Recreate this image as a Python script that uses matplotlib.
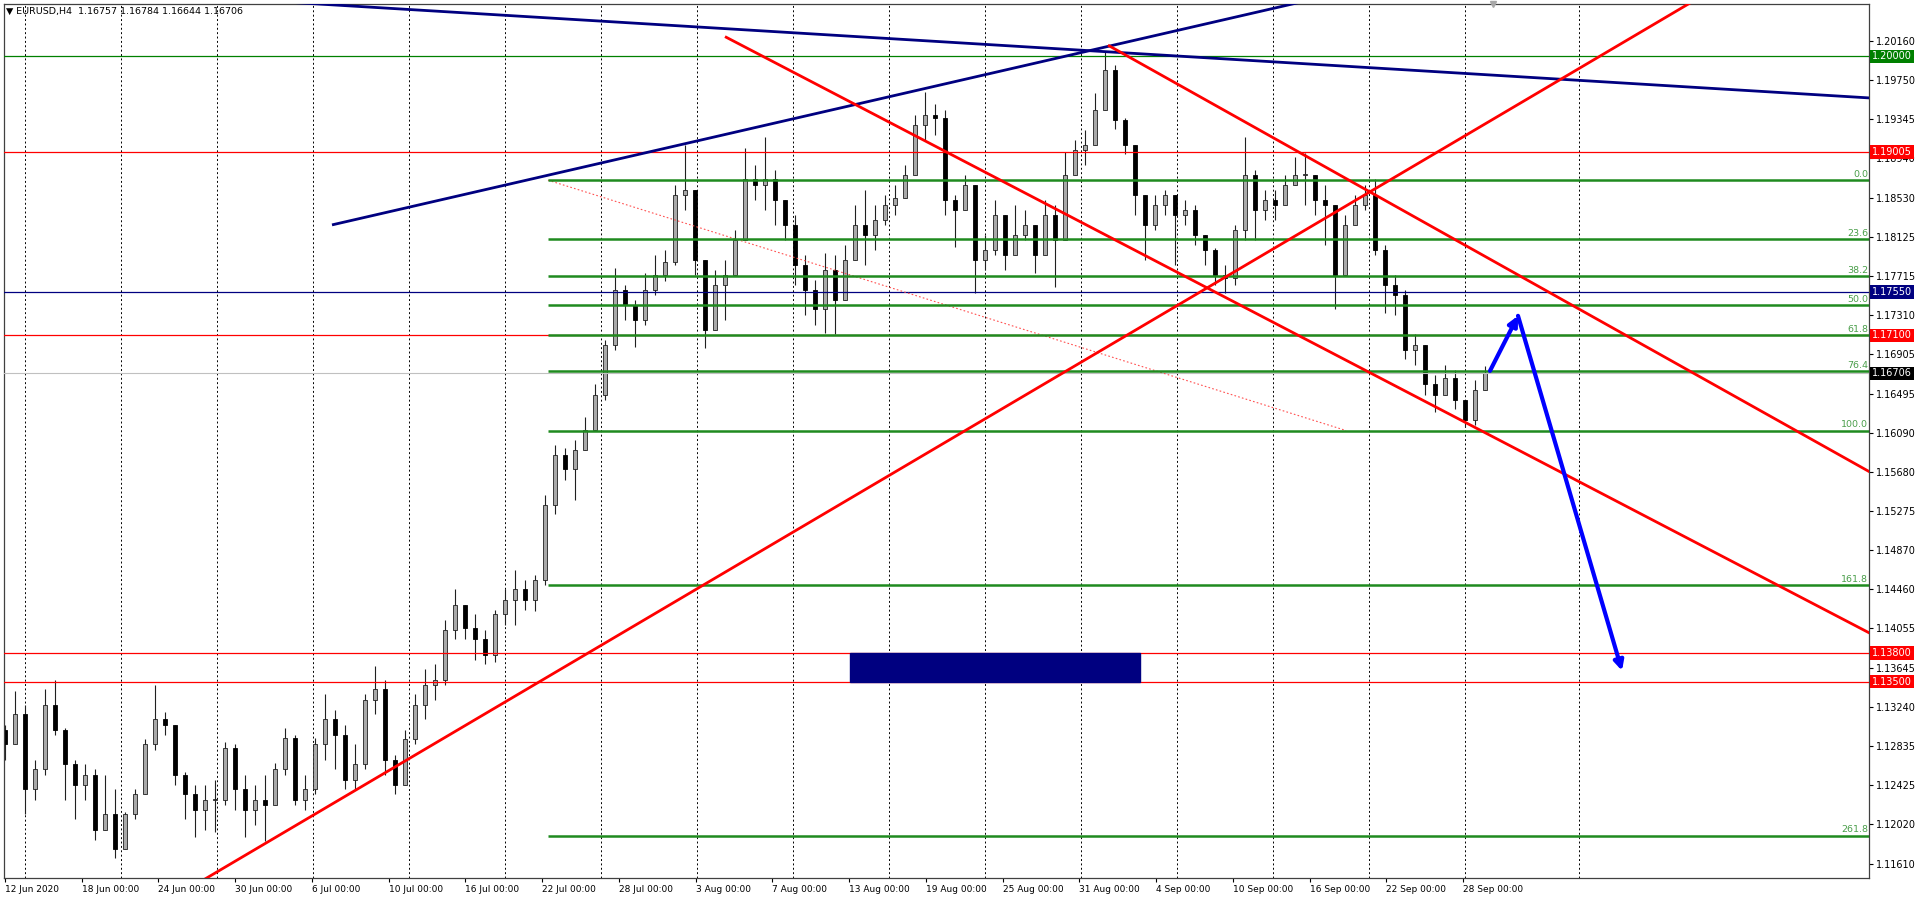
import matplotlib
matplotlib.use('Agg')
import numpy as np
import matplotlib.pyplot as plt
import matplotlib.transforms as mtransforms
from matplotlib.patches import Rectangle

plt.rcParams.update({'font.family': ['DejaVu Sans'], 'font.size': 7})

# ---- price data (12h candles) ----
first_open = 1.1300
closes = [1.1285, 1.1316, 1.1238, 1.1259, 1.1326, 1.1300, 1.1264, 1.1243, 1.1253, 1.1196,
          1.1212, 1.1176, 1.1212, 1.1233, 1.1285, 1.1311, 1.1305, 1.1253, 1.1233, 1.1217,
          1.1227, 1.1227, 1.1281, 1.1238, 1.1217, 1.1227, 1.1222, 1.1259, 1.1292, 1.1227,
          1.1238, 1.1285, 1.1311, 1.1295, 1.1248, 1.1264, 1.1331, 1.1342, 1.1269, 1.1243,
          1.1290, 1.1326, 1.1347, 1.1352, 1.1404, 1.1430, 1.1406, 1.1394, 1.1378, 1.1420,
          1.1435, 1.1446, 1.1435, 1.1456, 1.1534, 1.1586, 1.1571, 1.1591, 1.1612, 1.1648,
          1.1700, 1.1757, 1.1742, 1.1726, 1.1757, 1.1773, 1.1786, 1.1856, 1.1861, 1.1788,
          1.1716, 1.1762, 1.1773, 1.1809, 1.1872, 1.1866, 1.1872, 1.1851, 1.1825, 1.1783,
          1.1757, 1.1737, 1.1778, 1.1747, 1.1788, 1.1825, 1.1814, 1.1830, 1.1846, 1.1853,
          1.1877, 1.1929, 1.1939, 1.1936, 1.1851, 1.1840, 1.1866, 1.1788, 1.1799, 1.1835,
          1.1794, 1.1814, 1.1825, 1.1794, 1.1835, 1.1809, 1.1877, 1.1903, 1.1908, 1.1944,
          1.1986, 1.1934, 1.1908, 1.1856, 1.1825, 1.1846, 1.1856, 1.1835, 1.1840, 1.1814,
          1.1799, 1.1773, 1.1770, 1.1820, 1.1877, 1.1840, 1.1851, 1.1846, 1.1866, 1.1877,
          1.1877, 1.1851, 1.1846, 1.1773, 1.1825, 1.1846, 1.1856, 1.1799, 1.1762, 1.1752,
          1.1695, 1.1700, 1.1659, 1.1648, 1.1666, 1.1643, 1.1622, 1.1653, 1.1671]
highs = [1.1305, 1.1340, 1.1326, 1.1269, 1.1342, 1.1352, 1.1302, 1.1269, 1.1264, 1.1259,
         1.1253, 1.1238, 1.1215, 1.1238, 1.1290, 1.1347, 1.1319, 1.1300, 1.1256, 1.1243,
         1.1243, 1.1248, 1.1287, 1.1285, 1.1253, 1.1243, 1.1253, 1.1266, 1.1302, 1.1295,
         1.1253, 1.1292, 1.1337, 1.1321, 1.1305, 1.1285, 1.1337, 1.1366, 1.1352, 1.1274,
         1.1300, 1.1337, 1.1363, 1.1368, 1.1414, 1.1446, 1.1430, 1.1420, 1.1404, 1.1425,
         1.1446, 1.1466, 1.1456, 1.1461, 1.1544, 1.1596, 1.1593, 1.1601, 1.1625, 1.1659,
         1.1705, 1.1780, 1.1762, 1.1747, 1.1775, 1.1794, 1.1799, 1.1866, 1.1908, 1.1861,
         1.1788, 1.1778, 1.1788, 1.1820, 1.1905, 1.1887, 1.1916, 1.1882, 1.1840, 1.1835,
         1.1794, 1.1768, 1.1796, 1.1794, 1.1804, 1.1846, 1.1861, 1.1846, 1.1856, 1.1866,
         1.1887, 1.1939, 1.1963, 1.1950, 1.1944, 1.1856, 1.1877, 1.1866, 1.1814, 1.1851,
         1.1825, 1.1846, 1.1840, 1.1825, 1.1851, 1.1846, 1.1901, 1.1913, 1.1923, 1.1962,
         1.2005, 1.1991, 1.1936, 1.1908, 1.1856, 1.1856, 1.1861, 1.1856, 1.1851, 1.1846,
         1.1814, 1.1801, 1.1783, 1.1825, 1.1916, 1.1882, 1.1861, 1.1861, 1.1877, 1.1895,
         1.1900, 1.1866, 1.1866, 1.1814, 1.1835, 1.1856, 1.1866, 1.1872, 1.1804, 1.1773,
         1.1757, 1.1711, 1.1695, 1.1669, 1.1679, 1.1674, 1.1643, 1.1664, 1.1678]
lows = [1.1269, 1.1290, 1.1212, 1.1227, 1.1253, 1.1295, 1.1227, 1.1207, 1.1227, 1.1186,
        1.1196, 1.1167, 1.1176, 1.1207, 1.1233, 1.1279, 1.1295, 1.1243, 1.1207, 1.1189,
        1.1196, 1.1194, 1.1222, 1.1217, 1.1189, 1.1201, 1.1184, 1.1222, 1.1253, 1.1222,
        1.1217, 1.1233, 1.1269, 1.1259, 1.1238, 1.1238, 1.1259, 1.1316, 1.1253, 1.1233,
        1.1248, 1.1285, 1.1311, 1.1331, 1.1347, 1.1394, 1.1394, 1.1373, 1.1368, 1.1371,
        1.1409, 1.1409, 1.1425, 1.1423, 1.1451, 1.1524, 1.1560, 1.1539, 1.1591, 1.1612,
        1.1643, 1.1695, 1.1726, 1.1698, 1.1721, 1.1752, 1.1766, 1.1783, 1.1840, 1.1773,
        1.1697, 1.1716, 1.1726, 1.1773, 1.1835, 1.1851, 1.1840, 1.1825, 1.1809, 1.1762,
        1.1731, 1.1721, 1.1712, 1.1711, 1.1773, 1.1794, 1.1783, 1.1799, 1.1825, 1.1835,
        1.1853, 1.1882, 1.1913, 1.1918, 1.1835, 1.1802, 1.1846, 1.1754, 1.1778, 1.1794,
        1.1778, 1.1799, 1.1809, 1.1775, 1.1814, 1.1760, 1.1809, 1.1882, 1.1887, 1.1918,
        1.1955, 1.1924, 1.1898, 1.1835, 1.1788, 1.1820, 1.1835, 1.1783, 1.1825, 1.1804,
        1.1783, 1.1762, 1.1754, 1.1762, 1.1809, 1.1809, 1.1830, 1.1830, 1.1851, 1.1866,
        1.1846, 1.1835, 1.1804, 1.1737, 1.1788, 1.1825, 1.1840, 1.1794, 1.1733, 1.1731,
        1.1685, 1.1679, 1.1648, 1.1630, 1.1648, 1.1633, 1.1615, 1.1617, 1.1653]

date_labels = ['12 Jun 2020', '18 Jun 00:00', '24 Jun 00:00', '30 Jun 00:00', '6 Jul 00:00',
               '10 Jul 00:00', '16 Jul 00:00', '22 Jul 00:00', '28 Jul 00:00', '3 Aug 00:00',
               '7 Aug 00:00', '13 Aug 00:00', '19 Aug 00:00', '25 Aug 00:00', '31 Aug 00:00',
               '4 Sep 00:00', '10 Sep 00:00', '16 Sep 00:00', '22 Sep 00:00', '28 Sep 00:00']
price_ticks = [1.20160, 1.19750, 1.19345, 1.18940, 1.18530, 1.18125, 1.17715, 1.17310,
               1.16905, 1.16495, 1.16090, 1.15680, 1.15275, 1.14870, 1.14460, 1.14055,
               1.13645, 1.13240, 1.12835, 1.12425, 1.12020, 1.11610]

# horizontal levels: price, colour, label box colour
levels = [(1.20000, '#008000', '#008000'),
          (1.19005, '#ff0000', '#ff0000'),
          (1.17550, '#000080', '#000080'),
          (1.17100, '#ff0000', '#ff0000'),
          (1.16706, '#c0c0c0', '#000000'),
          (1.13800, '#ff0000', '#ff0000'),
          (1.13500, '#ff0000', '#ff0000')]

fib_hi, fib_lo = 1.18713, 1.16111
fib_levels = [0.0, 23.6, 38.2, 50.0, 61.8, 76.4, 100.0, 161.8, 261.8]
fib_start = 54.3

# trend lines: (x0, p0, x1, p1, colour, extend_left)
trend_lines = [(30.7, 1.20548, 186.4, 1.19568, '#000080', True),
               (32.7, 1.18248, 128.9, 1.20548, '#000080', False),
               (20.3, 1.11468, 168.4, 1.20548, '#ff0000', True),
               (72.0, 1.20205, 186.4, 1.14009, '#ff0000', False),
               (110.3, 1.20116, 186.4, 1.15685, '#ff0000', False)]

arrow_path = [(148.5, 1.16731), (151.3, 1.17303), (161.7, 1.13614)]
zone = (84.45, 113.45, 1.13500, 1.13800)

# ---- figure ----
fig = plt.figure(figsize=(19.19, 8.99), dpi=100)
ax = fig.add_axes([4 / 1919, 21 / 899, 1865 / 1919, 874 / 899])
ax.set_xlim(-0.1, 186.4)
ax.set_ylim(1.11460, 1.20544)

# grid (vertical only)
grid_x = list(1.95 + 9.606 * np.arange(16)) + [157.4]
for gx in grid_x:
    ax.axvline(gx, color='black', lw=0.7, ls=(0, (2, 2.5)), zorder=1)

# candles
n = len(closes)
x = np.arange(n)
opens = np.array([first_open] + closes[:-1])
c = np.array(closes)
h = np.maximum(np.array(highs), np.maximum(opens, c))
l = np.minimum(np.array(lows), np.minimum(opens, c))
up = c >= opens
ax.vlines(x, l, h, color='#202020', lw=0.8, zorder=2)
body = np.where(np.abs(c - opens) < 0.00008, 0.00008, c - opens)
ax.bar(x[up], body[up], bottom=opens[up], width=0.42, color='#a9a9a9',
       edgecolor='#202020', linewidth=0.6, zorder=2.2)
ax.bar(x[~up], body[~up], bottom=opens[~up], width=0.42, color='black',
       edgecolor='black', linewidth=0.6, zorder=2.2)

# horizontal levels
trans = mtransforms.blended_transform_factory(ax.transAxes, ax.transData)
for p, col, box in levels:
    ax.axhline(p, color=col, lw=0.9 if col != '#c0c0c0' else 0.8, zorder=3)

# fibonacci
rng = fib_hi - fib_lo
for lv in fib_levels:
    p = fib_hi - lv / 100 * rng
    ax.hlines(p, fib_start, 186.4, color='#1f8a1f', lw=1.8, zorder=3.2)
    ax.text(0.9995, p + 0.00012, f'{lv:.1f}', transform=trans, ha='right', va='bottom',
            fontsize=6.8, color='#4a9e4a', zorder=6)
ax.plot([fib_start, 134.1], [fib_hi, fib_lo], color='#ff5050', lw=0.8,
        ls=(0, (1.5, 2)), zorder=3)

# zone rectangle
ax.add_patch(Rectangle((zone[0], zone[2]), zone[1] - zone[0], zone[3] - zone[2],
                       facecolor='#000080', edgecolor='#000080', zorder=3.5))

# trend lines
for x0, p0, x1, p1, col, ext in trend_lines:
    k = (p1 - p0) / (x1 - x0)
    xa = -20 if ext else x0
    xb = 220
    ax.plot([xa, xb], [p0 + k * (xa - x0), p0 + k * (xb - x0)], color=col, lw=2.0,
            zorder=4, solid_capstyle='butt')

# blue forecast arrows
for (xa, pa), (xb, pb) in zip(arrow_path[:-1], arrow_path[1:]):
    ax.annotate('', xy=(xb, pb), xytext=(xa, pa),
                arrowprops=dict(arrowstyle='-|>', color='#0000ff', lw=3.0,
                                mutation_scale=14, shrinkA=0, shrinkB=0), zorder=5)

# axes styling
ax.yaxis.tick_right()
ax.set_yticks(price_ticks)
ax.set_yticklabels([f'{v:.5f}' for v in price_ticks], fontsize=7)
ax.tick_params(axis='y', direction='out', length=3, width=0.8, pad=2)
ax.set_xticks(7.674 * np.arange(len(date_labels)))
ax.set_xticklabels(date_labels, fontsize=6.5, ha='left')
ax.tick_params(axis='x', direction='out', length=3, width=0.8, pad=2)
for s in ax.spines.values():
    s.set_linewidth(0.9)
    s.set_color('#404040')

# price label boxes on the axis
for p, col, box in levels:
    ax.text(1.0017, p, f'{p:.5f}', transform=trans, ha='left', va='center', fontsize=7,
            color='white', zorder=10, clip_on=False,
            bbox=dict(boxstyle='square,pad=0.18', fc=box, ec='none'))

# header and chart shift marker
fig.text(6 / 1919, 1 - 11 / 899, '\u25BC EURUSD,H4  1.16757 1.16784 1.16644 1.16706',
         fontsize=6.8, va='center', ha='left', color='black')
ax.plot([148.8], [1.20544], marker='v', color='#a8a8a8', markersize=5, clip_on=False,
        zorder=6)

fig.savefig('out.png', dpi=100, facecolor='white')
